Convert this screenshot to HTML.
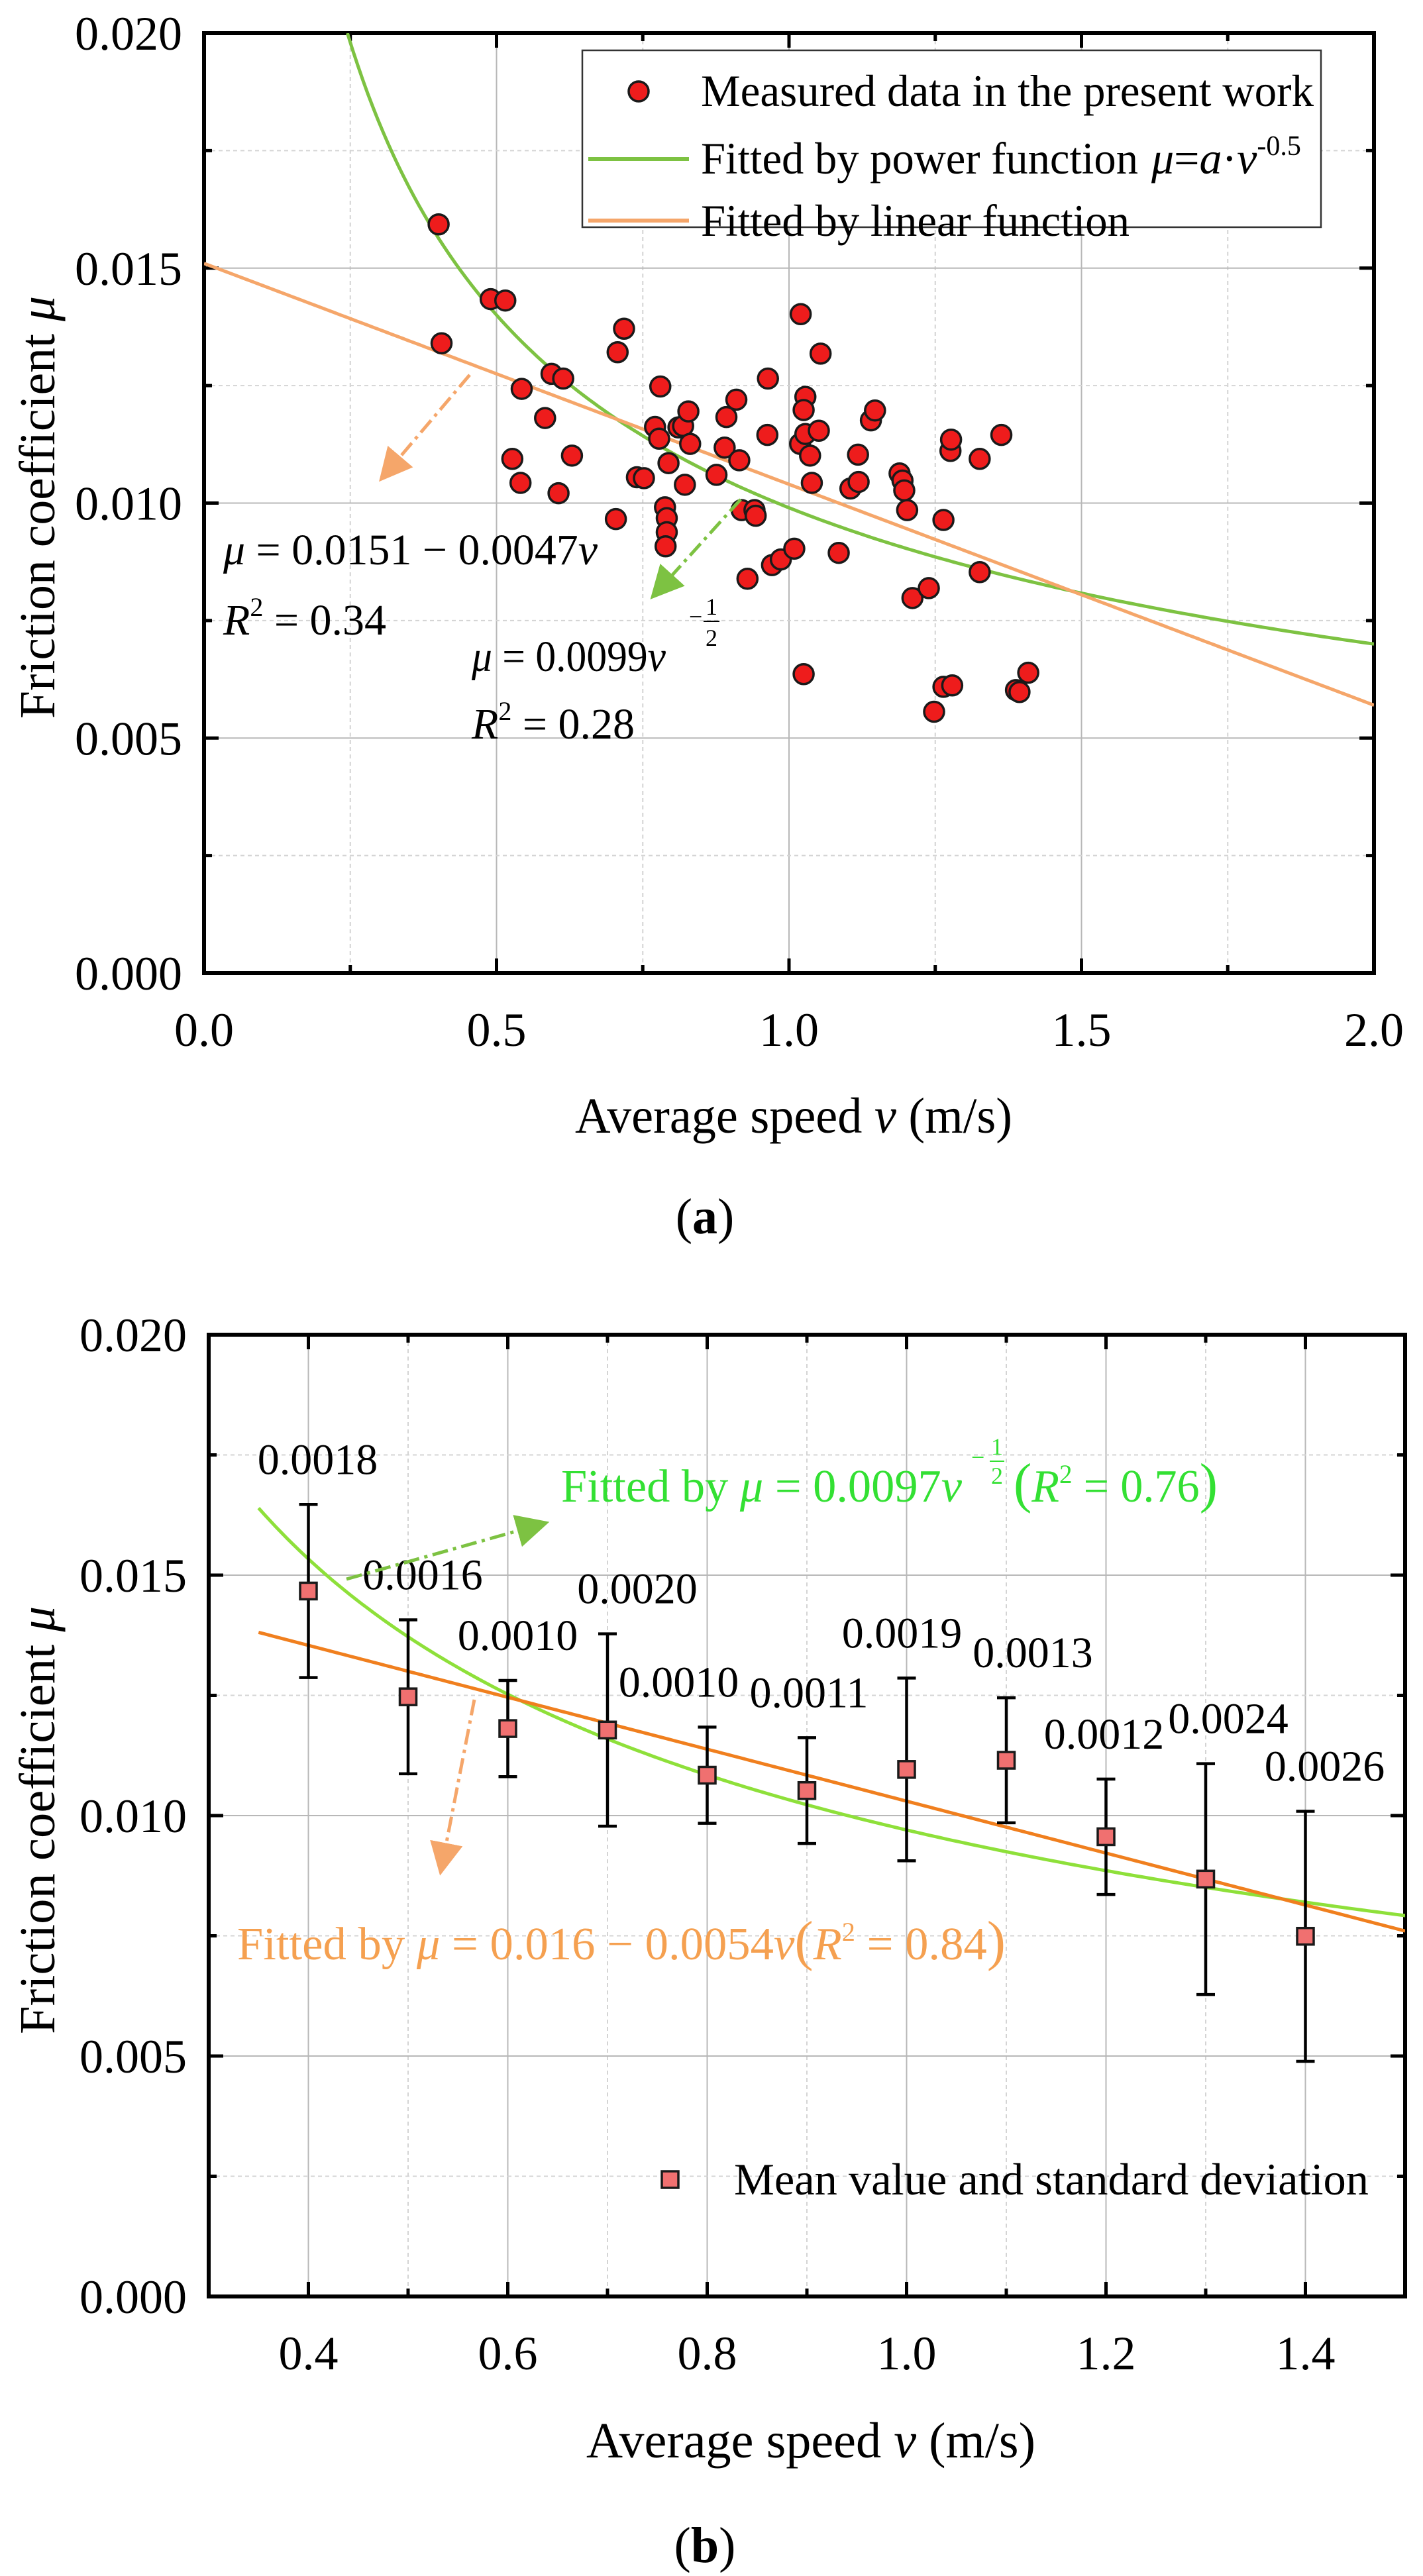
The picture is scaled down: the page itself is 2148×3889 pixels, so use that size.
<!DOCTYPE html>
<html><head><meta charset="utf-8"><style>
html,body{margin:0;padding:0;background:#fff}
svg,text{font-family:"Liberation Serif","DejaVu Serif",serif}
</style></head><body>
<svg id="fig" width="2148" height="3884" viewBox="0 0 2148 3884" xmlns="http://www.w3.org/2000/svg" font-family="Liberation Serif, serif">
<defs>
<marker id="ahO" markerWidth="10" markerHeight="10" refX="6" refY="5" orient="auto" viewBox="0 0 10 10"><path d="M0,0 L10,5 L0,10 z" fill="#f5a66a"/></marker>
<marker id="ahG" markerWidth="10" markerHeight="10" refX="6" refY="5" orient="auto" viewBox="0 0 10 10"><path d="M0,0 L10,5 L0,10 z" fill="#7dc242"/></marker>
</defs>
<g id="chartA"></g>
<g id="chartB"></g>
</svg>
<script>
// ---- Chart A data ----
const aSpeed = [0.401,0.406,0.490,0.515,0.543,0.527,0.541,0.583,0.594,0.614,0.606,0.629,0.707,0.718,0.704,0.740,0.752,0.771,0.780,0.778,0.794,0.811,0.819,0.828,0.831,0.822,0.788,0.791,0.791,0.789,0.876,0.890,0.893,0.910,0.915,0.919,0.941,0.943,0.964,0.963,0.971,0.986,1.009,0.929,1.020,1.028,1.025,1.019,1.028,1.036,1.051,1.054,1.039,1.025,1.085,1.105,1.118,1.119,1.140,1.147,1.189,1.194,1.197,1.202,1.211,1.239,1.248,1.264,1.264,1.279,1.276,1.277,1.326,1.326,1.363,1.388,1.394,1.409];
const aFriction = [0.01593,0.0134,0.01434,0.01431,0.01243,0.01094,0.01043,0.01181,0.01275,0.01265,0.01021,0.01101,0.01321,0.01371,0.00966,0.01055,0.01053,0.01162,0.01248,0.01137,0.01085,0.01161,0.01164,0.01195,0.01126,0.01039,0.00991,0.00968,0.00938,0.00908,0.0106,0.01118,0.01183,0.0122,0.01091,0.00985,0.00985,0.00973,0.01265,0.01145,0.00868,0.0088,0.00903,0.00839,0.01402,0.01226,0.01198,0.01126,0.01147,0.01101,0.01154,0.01318,0.01043,0.00636,0.00894,0.01031,0.01103,0.01045,0.01176,0.01197,0.01063,0.01048,0.01027,0.00985,0.00798,0.00819,0.00556,0.00964,0.00609,0.00612,0.01111,0.01135,0.01094,0.00853,0.01145,0.00602,0.00598,0.00639];
const aPowerCoef = [0.0099, -0.5];
const aLinearCoef = [0.0151, -0.0047];
const aXTicks = ["0.0","0.5","1.0","1.5","2.0"];
const aYTicks = ["0.000","0.005","0.010","0.015","0.020"];
// ---- Chart B data ----
const bSpeed = [0.4,0.5,0.6,0.7,0.8,0.9,1.0,1.1,1.2,1.3,1.4];
const bMean = [0.01467,0.01247,0.01181,0.01178,0.01084,0.01052,0.01096,0.01115,0.00956,0.00868,0.00749];
const bStd = [0.0018,0.0016,0.0010,0.0020,0.0010,0.0011,0.0019,0.0013,0.0012,0.0024,0.0026];
const bStdLabels = ["0.0018","0.0016","0.0010","0.0020","0.0010","0.0011","0.0019","0.0013","0.0012","0.0024","0.0026"];
const bPowerCoef = [0.0097, -0.5];
const bLinearCoef = [0.0157, -0.0054];
const bXTicks = ["0.4","0.6","0.8","1.0","1.2","1.4"];
const bYTicks = ["0.000","0.005","0.010","0.015","0.020"];
// label horizontal nudges (layout only)
const bLabelNudge = [14,22,15,45,-43,3,-7,40,-3,34,29];

const NS="http://www.w3.org/2000/svg";
function mk(parent,tag,attrs){const e=document.createElementNS(NS,tag);for(const k in attrs)e.setAttribute(k,attrs[k]);parent.appendChild(e);return e;}

function frame(g,L,R,T,B,xmin,xmax,ymin,ymax,xMajor,xMinor,yMajor,yMinor,xLabels,yLabels,xLabelVals){
  const sx=v=>L+(v-xmin)/(xmax-xmin)*(R-L);
  const sy=v=>B-(v-ymin)/(ymax-ymin)*(B-T);
  const grid=mk(g,'g',{});
  
  
  for(let v=xmin;v<=xmax+1e-9;v+=xMinor){const x=sx(v);const isMaj=xLabelVals.some(t=>Math.abs(t-v)<1e-6);
    mk(grid,'line',{x1:x,x2:x,y1:T,y2:B,stroke:isMaj?'#b8b8b8':'#d4d4d4','stroke-width':2,'stroke-dasharray':isMaj?'none':'6,5'});
    mk(grid,'line',{x1:x,x2:x,y1:B,y2:B-(isMaj?22:12),stroke:'#000','stroke-width':5});
    mk(grid,'line',{x1:x,x2:x,y1:T,y2:T+(isMaj?22:12),stroke:'#000','stroke-width':5});}
  for(let v=ymin;v<=ymax+1e-9;v+=yMinor){const y=sy(v);const isMaj=Math.abs(Math.round(v/yMajor)*yMajor-v)<1e-7;
    mk(grid,'line',{x1:L,x2:R,y1:y,y2:y,stroke:isMaj?'#b8b8b8':'#d4d4d4','stroke-width':2,'stroke-dasharray':isMaj?'none':'6,5'});
    mk(grid,'line',{x1:L,x2:L+(isMaj?22:12),y1:y,y2:y,stroke:'#000','stroke-width':5});
    mk(grid,'line',{x1:R,x2:R-(isMaj?22:12),y1:y,y2:y,stroke:'#000','stroke-width':5});}
  const box=mk(g,'rect',{x:L,y:T,width:R-L,height:B-T,fill:'none',stroke:'#000','stroke-width':6});
  
  
  xLabels.forEach((t,i)=>{const e=mk(g,'text',{x:sx(xLabelVals[i]),y:B+110,'font-size':72,'text-anchor':'middle','font-family':'Liberation Serif, serif'});e.textContent=t;
    
    });
  yLabels.forEach((t,i)=>{const e=mk(g,'text',{x:L-33,y:sy(ymin+i*yMajor)+25,'font-size':72,'text-anchor':'end','font-family':'Liberation Serif, serif'});e.textContent=t;
    
    });
  return {sx,sy};
}
function curvePath(sx,sy,f,a,b){let d='';const n=200;for(let i=0;i<=n;i++){const v=a+(b-a)*i/n;d+=(i?'L':'M')+sx(v).toFixed(1)+','+sy(f(v)).toFixed(1);}return d;}
const TL='lengthAdjust="spacingAndGlyphs"';

// ===== Chart A =====
(function(){
  const g=document.getElementById('chartA');
  const L=308,R=2074,T=50,B=1469;
  const {sx,sy}=frame(g,L,R,T,B,0,2,0,0.02,0.5,0.25,0.005,0.0025,aXTicks,aYTicks,[0,0.5,1,1.5,2]);
  const clip=mk(g,'clipPath',{id:'clipA'});mk(clip,'rect',{x:L,y:T,width:R-L,height:B-T});
  const pw=v=>aPowerCoef[0]*Math.pow(v,aPowerCoef[1]);
  const vStart=Math.pow(0.02/aPowerCoef[0],1/aPowerCoef[1]);
  const gc=mk(g,'path',{d:curvePath(sx,sy,pw,vStart,2),fill:'none',stroke:'#7dc242','stroke-width':5,'clip-path':'url(#clipA)'});
  
  
  const lin=v=>aLinearCoef[0]+aLinearCoef[1]*v;
  const oc=mk(g,'path',{d:curvePath(sx,sy,lin,0,2),fill:'none',stroke:'#f5a66a','stroke-width':5,'clip-path':'url(#clipA)'});
  
  
  const pts=mk(g,'g',{});
  
  
  aSpeed.forEach((v,i)=>{const c=mk(pts,'circle',{cx:sx(v),cy:sy(aFriction[i]),r:15,fill:'#ee1c1c',stroke:'#1a1a1a','stroke-width':3.5});
    
    });
  const a1=mk(g,'line',{x1:709,y1:566,x2:585,y2:712,stroke:'#f5a66a','stroke-width':5,'stroke-dasharray':'24,8,5,8','marker-end':'url(#ahO)'});
  
  
  const a2=mk(g,'line',{x1:1118,y1:754,x2:995,y2:890,stroke:'#7dc242','stroke-width':5,'stroke-dasharray':'24,8,5,8','marker-end':'url(#ahG)'});
  
  
  const lg=mk(g,'g',{});
  
  
  mk(lg,'rect',{x:879,y:76,width:1115,height:267,fill:'#fff',stroke:'#333','stroke-width':2.5});
  mk(lg,'circle',{cx:964,cy:138,r:15,fill:'#ee1c1c',stroke:'#1a1a1a','stroke-width':3.5});
  mk(lg,'line',{x1:888,x2:1040,y1:240,y2:240,stroke:'#7dc242','stroke-width':6});
  mk(lg,'line',{x1:888,x2:1040,y1:333,y2:333,stroke:'#f5a66a','stroke-width':6});
  lg.insertAdjacentHTML('beforeend','<text x="1058" y="160" font-size="68" textLength="925" '+TL+'>Measured data in the present work</text><text x="1058" y="262" font-size="68"><tspan textLength="660" '+TL+'>Fitted by power function</tspan><tspan x="1738" font-style="italic">μ</tspan>=<tspan font-style="italic">a</tspan>·<tspan font-style="italic">v</tspan><tspan font-size="42" dy="-28">-0.5</tspan></text><text x="1058" y="356" font-size="68" textLength="647" '+TL+'>Fitted by linear function</text>');
  g.insertAdjacentHTML('beforeend','<text x="337" y="852" font-size="66" textLength="565" '+TL+'><tspan font-style="italic">μ</tspan> = 0.0151 − 0.0047<tspan font-style="italic">ν</tspan></text>'+
  '<text x="337" y="958" font-size="66"><tspan font-style="italic">R</tspan><tspan font-size="40" dy="-28">2</tspan><tspan dy="28"> = 0.34</tspan></text>'+
  '<text x="712" y="1013" font-size="66" textLength="293" '+TL+'><tspan font-style="italic">μ</tspan> = 0.0099<tspan font-style="italic">ν</tspan></text>'+
  '<text x="1040" y="943" font-size="36">−</text><text x="1074" y="928" font-size="36" text-anchor="middle">1</text><line x1="1062" x2="1086" y1="938" y2="938" stroke="#000" stroke-width="2"/><text x="1074" y="975" font-size="36" text-anchor="middle">2</text>'+
  '<text x="712" y="1115" font-size="66"><tspan font-style="italic">R</tspan><tspan font-size="40" dy="-28">2</tspan><tspan dy="28"> = 0.28</tspan></text>');
  g.insertAdjacentHTML('beforeend','<text x="868" y="1710" font-size="76" textLength="660" '+TL+'>Average speed <tspan font-style="italic">v</tspan> (m/s)</text><text transform="translate(82,1085) rotate(-90)" font-size="76" textLength="638" '+TL+'>Friction coefficient <tspan font-style="italic">μ</tspan></text><text x="1064" y="1862" font-size="76" text-anchor="middle">(<tspan font-weight="bold">a</tspan>)</text>');
})();

// ===== Chart B =====
(function(){
  const g=document.getElementById('chartB');
  const L=315,R=2121,T=2015,B=3467;
  const {sx,sy}=frame(g,L,R,T,B,0.3,1.5,0,0.02,0.2,0.1,0.005,0.0025,bXTicks,bYTicks,[0.4,0.6,0.8,1.0,1.2,1.4]);
  const clip=mk(g,'clipPath',{id:'clipB'});mk(clip,'rect',{x:L,y:T,width:R-L,height:B-T});
  const pw=v=>bPowerCoef[0]*Math.pow(v,bPowerCoef[1]);
  const gc=mk(g,'path',{d:curvePath(sx,sy,pw,0.35,1.5),fill:'none',stroke:'#8ee03a','stroke-width':5,'clip-path':'url(#clipB)'});
  
  
  const lin=v=>bLinearCoef[0]+bLinearCoef[1]*v;
  const oc=mk(g,'path',{d:curvePath(sx,sy,lin,0.35,1.5),fill:'none',stroke:'#f07f1e','stroke-width':5,'clip-path':'url(#clipB)'});
  
  
  bSpeed.forEach((v,i)=>{
    const x=sx(v),yt=sy(bMean[i]+bStd[i]),yb=sy(bMean[i]-bStd[i]),ym=sy(bMean[i]);
    const eb=mk(g,'path',{d:`M${x},${yt}L${x},${yb}M${x-14},${yt}L${x+14},${yt}M${x-14},${yb}L${x+14},${yb}`,stroke:'#000','stroke-width':4.5,fill:'none'});
    
    
    const s=mk(g,'rect',{x:x-12.5,y:ym-12.5,width:25,height:25,fill:'#f07070',stroke:'#1a1a1a','stroke-width':3.5});
    
    
    const t=mk(g,'text',{x:x+bLabelNudge[i],y:yt-46,'font-size':66,'text-anchor':'middle','font-family':'Liberation Serif, serif'});
    t.textContent=bStdLabels[i];
    
    
  });
  const a1=mk(g,'line',{x1:523,y1:2384,x2:810,y2:2303,stroke:'#7dc242','stroke-width':5,'stroke-dasharray':'24,8,5,8','marker-end':'url(#ahG)'});
  
  
  const a2=mk(g,'line',{x1:716,y1:2566,x2:668,y2:2812,stroke:'#f5a66a','stroke-width':5,'stroke-dasharray':'24,8,5,8','marker-end':'url(#ahO)'});
  
  
  g.insertAdjacentHTML('beforeend',
  '<text x="847" y="2267" font-size="70" fill="#33e033" textLength="605" '+TL+'>Fitted by <tspan font-style="italic">μ</tspan> = 0.0097<tspan font-style="italic">ν</tspan></text>'+
  '<text x="1466" y="2212" font-size="36" fill="#33e033">−</text><text x="1505" y="2196" font-size="36" fill="#33e033" text-anchor="middle">1</text><line x1="1494" x2="1516" y1="2206" y2="2206" stroke="#33e033" stroke-width="2"/><text x="1505" y="2240" font-size="36" fill="#33e033" text-anchor="middle">2</text>'+
  '<text x="1530" y="2267" font-size="70" fill="#33e033" textLength="308" '+TL+'><tspan font-size="84">(</tspan><tspan font-style="italic">R</tspan><tspan font-size="40" dy="-28">2</tspan><tspan dy="28"> = 0.76</tspan><tspan font-size="84">)</tspan></text>'+
  '<text x="358" y="2958" font-size="70" fill="#f5a050" textLength="1160" '+TL+'>Fitted by <tspan font-style="italic">μ</tspan> = 0.016 − 0.0054<tspan font-style="italic">ν</tspan><tspan font-size="84">(</tspan><tspan font-style="italic">R</tspan><tspan font-size="40" dy="-28">2</tspan><tspan dy="28"> = 0.84</tspan><tspan font-size="84">)</tspan></text>');
  g.insertAdjacentHTML('beforeend','<rect x="999" y="3278" width="25" height="25" fill="#f07070" stroke="#1a1a1a" stroke-width="3.5"/><text x="1108" y="3313" font-size="68" textLength="958" '+TL+'>Mean value and standard deviation</text>');
  g.insertAdjacentHTML('beforeend','<text x="885" y="3710" font-size="76" textLength="678" '+TL+'>Average speed <tspan font-style="italic">v</tspan> (m/s)</text><text transform="translate(82,3071) rotate(-90)" font-size="76" textLength="646" '+TL+'>Friction coefficient <tspan font-style="italic">μ</tspan></text><text x="1064" y="3868" font-size="76" text-anchor="middle">(<tspan font-weight="bold">b</tspan>)</text>');
})();
</script>
</body></html>
